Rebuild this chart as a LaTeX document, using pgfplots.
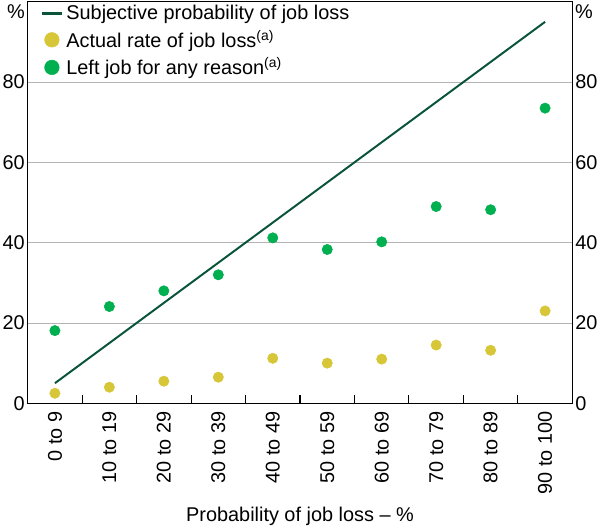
\documentclass[border=0pt]{standalone}
\usepackage{fontspec}
\setmainfont{Liberation Sans}
\usepackage{pgfplots}
\pgfplotsset{compat=1.18}
\definecolor{linegreen}{RGB}{10,85,58}
\definecolor{dotyellow}{RGB}{214,198,56}
\definecolor{dotgreen}{RGB}{0,176,80}
\definecolor{gridgray}{RGB}{180,180,180}

\begin{document}
\begin{tikzpicture}[font=\fontsize{15pt}{18pt}\selectfont]
\begin{axis}[
    name=main,
    scale only axis,
    width=411pt, height=303pt,
    xmin=-0.5, xmax=9.5,
    ymin=0, ymax=100,
    clip=false,
    axis line style={line width=0.8pt},
    xtick={0,...,9},
    xticklabels={0 to 9,10 to 19,20 to 29,30 to 39,40 to 49,50 to 59,60 to 69,70 to 79,80 to 89,90 to 100},
    x tick label style={rotate=90, anchor=east, inner sep=2pt},
    xticklabel shift=4pt,
    minor xtick={0.5,1.5,...,8.5},
    xtick pos=bottom,
    tick align=inside,
    major x tick style={draw=none},
    minor x tick style={black, line width=0.8pt},
    minor tick length=6pt,
    ytick={0,20,...,80},
    ytick pos=left,
    major y tick style={draw=none},
    ymajorgrids,
    major grid style={gridgray, line width=0.6pt},
    yticklabel style={inner sep=2pt},
    /pgf/number format/assume math mode=true,
    xlabel={Probability of job loss – \%},
    xlabel style={yshift=-4pt},
    legend cell align=left,
    legend style={at={(0.015,1.005)}, anchor=north west, draw=none, fill=none,
        row sep=2.5pt, font=\fontsize{15pt}{18pt}\selectfont},
]
\addplot[linegreen, line width=1.5pt,
    legend image code/.code={\draw[linegreen, line width=2.2pt] (0mm,0) -- (5.5mm,0);}]
    coordinates {(0,5) (9,95)};
\addlegendentry{Subjective probability of job loss}
\addplot[only marks, mark=*, mark size=3.9pt, color=dotyellow,
    legend image code/.code={\fill[dotyellow] (2.75mm,0) circle (5.5pt);}]
    coordinates {
        (0,2.5) (1,4) (2,5.5) (3,6.5) (4,11.2)
        (5,10) (6,11) (7,14.5) (8,13.2) (9,23)
    };
\addlegendentry{Actual rate of job loss\textsuperscript{(a)}}
\addplot[only marks, mark=*, mark size=3.9pt, color=dotgreen,
    legend image code/.code={\fill[dotgreen] (2.75mm,0) circle (5.5pt);}]
    coordinates {
        (0,18.1) (1,24.1) (2,28) (3,32) (4,41.2)
        (5,38.3) (6,40.2) (7,49) (8,48.2) (9,73.5)
    };
\addlegendentry{Left job for any reason\textsuperscript{(a)}}
\node[anchor=east, inner sep=2pt] at (rel axis cs:0,0.975) {\%};
\node[anchor=west, inner sep=2pt] at (rel axis cs:1,0.975) {\%};
\end{axis}
\begin{axis}[
    scale only axis,
    width=411pt, height=303pt,
    xmin=-0.5, xmax=9.5,
    ymin=0, ymax=100,
    hide x axis,
    axis y line*=right,
    axis line style={draw=none},
    ytick={0,20,...,80},
    major y tick style={draw=none},
    yticklabel style={inner sep=2pt},
    /pgf/number format/assume math mode=true,
]
\end{axis}
\end{tikzpicture}
\end{document}
